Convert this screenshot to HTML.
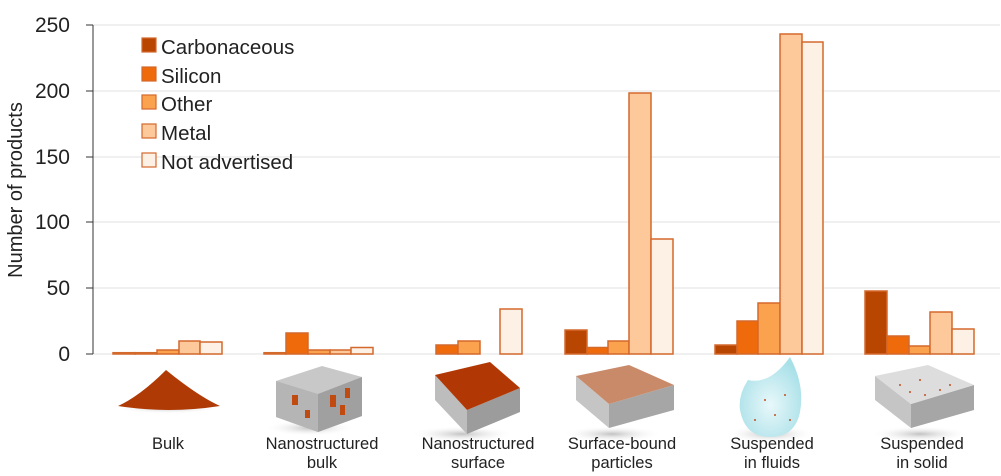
<!DOCTYPE html>
<html><head><meta charset="utf-8"><style>
body{margin:0;background:#fff;}
svg{display:block;font-family:"Liberation Sans",sans-serif;}
</style></head><body>
<svg width="1001" height="476" viewBox="0 0 1001 476">
<defs>
<radialGradient id="sh" cx="50%" cy="50%" r="50%"><stop offset="0" stop-color="#999" stop-opacity=".6"/><stop offset="1" stop-color="#fff" stop-opacity="0"/></radialGradient>
<radialGradient id="dr" cx="50%" cy="60%" r="60%"><stop offset="0" stop-color="#e8f8fa"/><stop offset="1" stop-color="#a8e0e8"/></radialGradient>
</defs>
<g stroke="#ececec" stroke-width="1.5">
<line x1="93" y1="25" x2="1000" y2="25"/><line x1="93" y1="91" x2="1000" y2="91"/><line x1="93" y1="157" x2="1000" y2="157"/><line x1="93" y1="222" x2="1000" y2="222"/><line x1="93" y1="288" x2="1000" y2="288"/><line x1="93" y1="354" x2="1000" y2="354"/>
</g>
<line x1="93" y1="25" x2="93" y2="354" stroke="#333" stroke-width="1"/>
<g stroke="#333"><line x1="86" y1="25" x2="93" y2="25"/><line x1="86" y1="91" x2="93" y2="91"/><line x1="86" y1="157" x2="93" y2="157"/><line x1="86" y1="222" x2="93" y2="222"/><line x1="86" y1="288" x2="93" y2="288"/><line x1="86" y1="354" x2="93" y2="354"/></g>
<g font-size="21" fill="#222" text-anchor="end">
<text x="70" y="32">250</text><text x="70" y="98">200</text><text x="70" y="164">150</text><text x="70" y="229">100</text><text x="70" y="295">50</text><text x="70" y="361">0</text>
</g>
<text transform="translate(22,190) rotate(-90)" font-size="20" fill="#222" text-anchor="middle">Number of products</text>
<g stroke="#d4692c" stroke-width="1.5">
<rect x="113" y="352.7" width="22" height="1.3" fill="#b84500"/>
<rect x="135" y="352.7" width="22" height="1.3" fill="#ee6a0a"/>
<rect x="157" y="350" width="22" height="4" fill="#fba24e"/>
<rect x="179" y="341" width="21" height="13" fill="#fdc99a"/>
<rect x="200" y="342" width="22" height="12" fill="#fdf1e6"/>
<rect x="264" y="352.7" width="22" height="1.3" fill="#b84500"/>
<rect x="286" y="333" width="22" height="21" fill="#ee6a0a"/>
<rect x="308" y="350" width="22" height="4" fill="#fba24e"/>
<rect x="330" y="350" width="21" height="4" fill="#fdc99a"/>
<rect x="351" y="347.5" width="22" height="6.5" fill="#fdf1e6"/>
<rect x="436" y="345" width="22" height="9" fill="#ee6a0a"/>
<rect x="458" y="341" width="22" height="13" fill="#fba24e"/>
<rect x="500" y="309" width="22" height="45" fill="#fdf1e6"/>
<rect x="565" y="330" width="22" height="24" fill="#b84500"/>
<rect x="587" y="347.5" width="21" height="6.5" fill="#ee6a0a"/>
<rect x="608" y="341" width="21" height="13" fill="#fba24e"/>
<rect x="629" y="93" width="22" height="261" fill="#fdc99a"/>
<rect x="651" y="239" width="22" height="115" fill="#fdf1e6"/>
<rect x="715" y="345" width="22" height="9" fill="#b84500"/>
<rect x="737" y="321" width="21" height="33" fill="#ee6a0a"/>
<rect x="758" y="303" width="22" height="51" fill="#fba24e"/>
<rect x="780" y="34" width="22" height="320" fill="#fdc99a"/>
<rect x="802" y="42" width="21" height="312" fill="#fdf1e6"/>
<rect x="865" y="291" width="22" height="63" fill="#b84500"/>
<rect x="887" y="336" width="22" height="18" fill="#ee6a0a"/>
<rect x="909" y="346" width="21" height="8" fill="#fba24e"/>
<rect x="930" y="312" width="22" height="42" fill="#fdc99a"/>
<rect x="952" y="329" width="22" height="25" fill="#fdf1e6"/>
</g>
<g stroke="#d4692c" stroke-width="1.2">
<rect x="142" y="38" width="14" height="14" fill="#b84500"/>
<rect x="142" y="67" width="14" height="14" fill="#ee6a0a"/>
<rect x="142" y="95" width="14" height="14" fill="#fba24e"/>
<rect x="142" y="124" width="14" height="14" fill="#fdc99a"/>
<rect x="142" y="153" width="14" height="14" fill="#fdf1e6"/>
</g>
<g font-size="20.5" fill="#222">
<text x="161" y="54">Carbonaceous</text><text x="161" y="83">Silicon</text><text x="161" y="111">Other</text><text x="161" y="140">Metal</text><text x="161" y="169">Not advertised</text>
</g>
<ellipse cx="168" cy="408" rx="55" ry="6" fill="url(#sh)"/>
<path d="M118 406 Q140 396 166 370 Q198 396 220 406 Q168 414 118 406Z" fill="#b03a05"/>
<ellipse cx="310" cy="428" rx="45" ry="8" fill="url(#sh)"/>
<path d="M276 381 L322 366 L362 377 L362 416 L318 432 L276 417Z" fill="#c8c8c8"/>
<path d="M276 381 L318 394 L318 432 L276 417Z" fill="#b5b5b5"/>
<path d="M318 394 L362 377 L362 416 L318 432Z" fill="#a0a0a0"/>
<rect x="292" y="395" width="6" height="10" fill="#c04a10"/><rect x="330" y="395" width="6" height="12" fill="#c04a10"/><rect x="345" y="388" width="5" height="10" fill="#c04a10"/><rect x="305" y="410" width="5" height="8" fill="#c04a10"/><rect x="340" y="405" width="5" height="10" fill="#c04a10"/>
<ellipse cx="462" cy="434" rx="52" ry="8" fill="url(#sh)"/>
<path d="M435 375 L467 410 L467 434 L435 400Z" fill="#bdbdbd"/>
<path d="M467 434 L520 412 L520 388 L467 410Z" fill="#9c9c9c"/>
<path d="M435 375 L490 362 L520 388 L467 410Z" fill="#b13805"/>
<ellipse cx="612" cy="434" rx="50" ry="8" fill="url(#sh)"/>
<path d="M576 376 L609 404 L609 428 L576 400Z" fill="#c5c5c5"/>
<path d="M609 404 L674 385 L674 410 L609 428Z" fill="#a6a6a6"/>
<path d="M576 376 L629 365 L674 385 L609 404Z" fill="#c98a6a"/>
<ellipse cx="770" cy="434" rx="45" ry="9" fill="url(#sh)"/>
<path d="M790 357 Q770 385 748 380 Q738 395 740 410 Q745 437 770 437 Q795 437 800 412 Q805 385 790 357Z" fill="url(#dr)"/>
<ellipse cx="920" cy="434" rx="50" ry="8" fill="url(#sh)"/>
<path d="M875 376 L911 404 L911 428 L875 400Z" fill="#c5c5c5"/>
<path d="M911 404 L974 385 L974 410 L911 428Z" fill="#a6a6a6"/>
<path d="M875 376 L928 365 L974 385 L911 404Z" fill="#ddd"/>
<g fill="#c05020"><circle cx="900" cy="385" r="1"/><circle cx="920" cy="380" r="1"/><circle cx="940" cy="390" r="1"/><circle cx="925" cy="395" r="1"/><circle cx="950" cy="385" r="1"/><circle cx="910" cy="392" r="1"/><circle cx="765" cy="400" r="1"/><circle cx="775" cy="415" r="1"/><circle cx="755" cy="420" r="1"/><circle cx="785" cy="395" r="1"/><circle cx="790" cy="420" r="1"/></g>
<g font-size="16.5" fill="#222" text-anchor="middle">
<text x="168" y="449">Bulk</text>
<text x="322" y="449">Nanostructured</text><text x="322" y="468">bulk</text>
<text x="478" y="449">Nanostructured</text><text x="478" y="468">surface</text>
<text x="622" y="449">Surface-bound</text><text x="622" y="468">particles</text>
<text x="772" y="449">Suspended</text><text x="772" y="468">in fluids</text>
<text x="922" y="449">Suspended</text><text x="922" y="468">in solid</text>
</g>
</svg>
</body></html>
